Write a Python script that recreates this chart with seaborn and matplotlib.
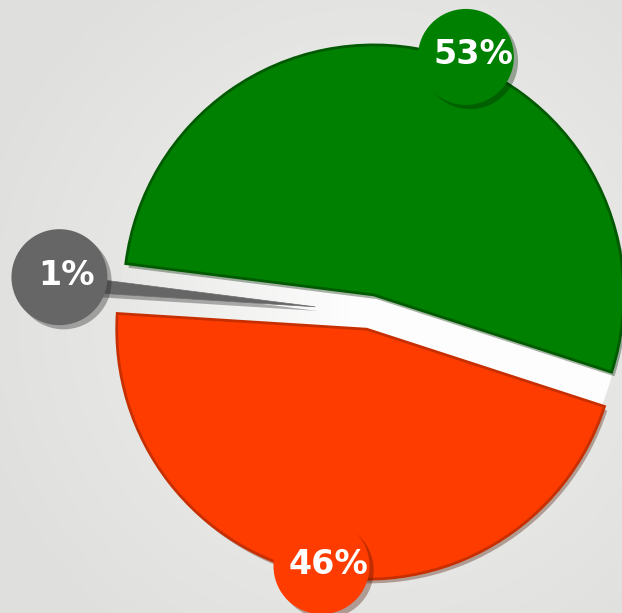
import numpy as np
import matplotlib.pyplot as plt
import matplotlib.patheffects as pe
from matplotlib.patches import Circle
from matplotlib.colors import to_rgb
import seaborn as sns

sns.set_theme(style="white")
plt.rcParams['font.family'] = ['DejaVu Sans']

# data
labels = ['53%', '1%', '46%']
shares = [53, 1, 46]
colors = ['#008000', '#666666', '#ff3c00']
edge_colors = ['#005a00', '#6e6e6e', '#c72f00']

# styling per slice
explode_frac = [0.07, 0.22, 0.07]
edge_widths = [2, 0.5, 2]
label_nudge = [-8, -1, 0]        # degrees added to wedge mid angle
label_dist = [1.09, 1.25, 1.035]  # in units of radius

W, H = 622, 613
cx, cy, r = 370, -312, 250

fig = plt.figure(figsize=(W / 100, H / 100), dpi=100)
fig.patch.set_facecolor('#e2e3e0')
ax = fig.add_axes([0, 0, 1, 1])

# soft background: lighter in the middle
yy, xx = np.mgrid[0:H, 0:W]
d = np.clip(np.hypot(xx - cx, yy + cy) / 420, 0, 1) ** 1.5
c_in, c_out = np.array(to_rgb('#ececea')), np.array(to_rgb('#dfe0dd'))
bg = c_in[None, None, :] * (1 - d[..., None]) + c_out[None, None, :] * d[..., None]
ax.imshow(bg, extent=(0, W, -H, 0), zorder=0, aspect='auto')

# white glow inside the gap between slices
gx = np.clip((np.arange(W) - 110) / 240, 0, 1)
g_left, g_right = np.array(to_rgb('#e6e6e4')), np.array(to_rgb('#fdfdfd'))
glow = g_left[None, :] * (1 - gx[:, None]) + g_right[None, :] * gx[:, None]
glow = np.repeat(glow[None, :, :], H, axis=0)
disk = Circle((cx, cy), r, transform=ax.transData)
im = ax.imshow(glow, extent=(0, W, -H, 0), zorder=1, aspect='auto')
im.set_clip_path(disk)

# matplotlib's explode is an absolute offset, so scale by radius
wedges, _ = ax.pie(
    shares, colors=colors, explode=[e * r for e in explode_frac],
    startangle=-18, counterclock=True,
    center=(cx, cy), radius=r, frame=True,
    wedgeprops=dict(zorder=2),
)
for w, ec, lw in zip(wedges, edge_colors, edge_widths):
    w.set_edgecolor(ec)
    w.set_linewidth(lw)
    w.set_zorder(2)
    w.set_path_effects([pe.SimplePatchShadow(offset=(2, -3), alpha=0.35), pe.Normal()])

# percentage badges
for w, lab, col, nud, dist in zip(wedges, labels, colors, label_nudge, label_dist):
    ang = np.deg2rad((w.theta1 + w.theta2) / 2 + nud)
    x = cx + dist * r * np.cos(ang)
    y = cy + dist * r * np.sin(ang)
    badge = Circle((x, y), 48, facecolor=col, edgecolor='none', zorder=4)
    badge.set_path_effects([pe.SimplePatchShadow(offset=(3, -3), alpha=0.35), pe.Normal()])
    ax.add_patch(badge)
    ax.text(x + 7, y + 2, lab, color='white', fontsize=24, fontweight='bold',
            ha='center', va='center', zorder=5)

ax.set_xlim(0, W)
ax.set_ylim(-H, 0)
ax.set_aspect('equal')
ax.axis('off')

fig.savefig('out.png', dpi=100, facecolor=fig.get_facecolor())
